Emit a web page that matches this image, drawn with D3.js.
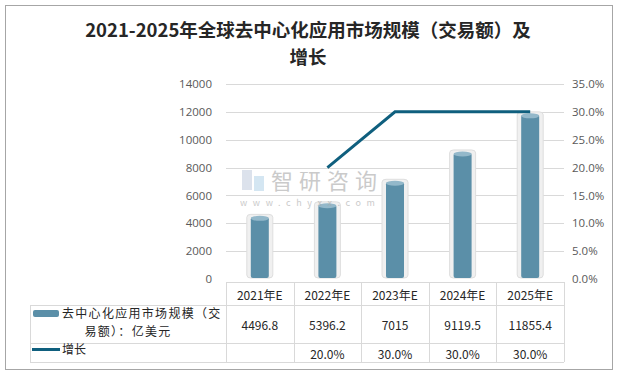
<!DOCTYPE html>
<html>
<head>
<meta charset="utf-8">
<script src="https://cdn.jsdelivr.net/npm/d3@7"></script>
<style>
  body { margin: 0; background: #fff; }
  text { font-family: "Noto Sans CJK SC", "Noto Sans", sans-serif; }
</style>
</head>
<body>
<div id="chart"></div>
<script>
var years = ["2021年E", "2022年E", "2023年E", "2024年E", "2025年E"];
var marketSize = [4496.8, 5396.2, 7015, 9119.5, 11855.4];
var growth = [null, 20.0, 30.0, 30.0, 30.0];
var leftTicks = [0, 2000, 4000, 6000, 8000, 10000, 12000, 14000];
var rightTicks = [0, 5, 10, 15, 20, 25, 30, 35];
var barName = "去中心化应用市场规模（交易额）：亿美元";
var lineName = "增长";

var width = 618, height = 377;
var plot = { left: 226, right: 564, top: 84, bottom: 279 };

var svg = d3.select("#chart").append("svg")
  .attr("width", width).attr("height", height);

// outer frame
svg.append("rect")
  .attr("x", 5.5).attr("y", 5.5).attr("width", 607).attr("height", 364)
  .attr("fill", "#fff").attr("stroke", "#a6a6a6");

// title
var title = svg.append("text")
  .attr("text-anchor", "middle")
  .attr("font-size", "18.5px").attr("font-weight", "bold").attr("fill", "#262626");
title.append("tspan").attr("x", 308).attr("y", 37).text("2021-2025年全球去中心化应用市场规模（交易额）及");
title.append("tspan").attr("x", 308).attr("y", 64).text("增长");

var x = d3.scaleBand().domain(years).range([plot.left, plot.right]);
var y = d3.scaleLinear().domain([0, 14000]).range([plot.bottom, plot.top]);
var y2 = d3.scaleLinear().domain([0, 35]).range([plot.bottom, plot.top]);

// gridlines
svg.append("g").selectAll("line").data(leftTicks.slice(1)).enter().append("line")
  .attr("x1", plot.left).attr("x2", plot.right)
  .attr("y1", d => Math.round(y(d)) + 0.5).attr("y2", d => Math.round(y(d)) + 0.5)
  .attr("stroke", "#d9d9d9");

// left axis
var leftAxis = svg.append("g")
  .attr("transform", "translate(" + plot.left + ",0)")
  .call(d3.axisLeft(y).tickValues(leftTicks).tickSize(0).tickPadding(14).tickFormat(d3.format("d")));
leftAxis.select(".domain").remove();
leftAxis.selectAll("text").attr("font-size", "11.5px").attr("fill", "#595959")
  .style("font-family", "'Open Sans', 'Noto Sans', sans-serif");

// right axis
var rightAxis = svg.append("g")
  .attr("transform", "translate(" + plot.right + ",0)")
  .call(d3.axisRight(y2).tickValues(rightTicks).tickSize(0).tickPadding(8)
    .tickFormat(d => d.toFixed(1) + "%"));
rightAxis.select(".domain").remove();
rightAxis.selectAll("text").attr("font-size", "11.5px").attr("fill", "#595959")
  .style("font-family", "'Open Sans', 'Noto Sans', sans-serif");

// cylinder bars
var bars = svg.append("g").selectAll("g").data(years).enter().append("g")
  .attr("transform", d => "translate(" + (x(d) + x.bandwidth() / 2) + ",0)");
var outerW = 26, innerW = 18;
bars.append("rect")
  .attr("x", -outerW / 2).attr("width", outerW)
  .attr("y", (d, i) => y(marketSize[i]) - 2)
  .attr("height", (d, i) => plot.bottom - y(marketSize[i]) + 1)
  .attr("rx", 4).attr("ry", 3)
  .attr("fill", "#f0f0f0").attr("stroke", "#dedede");
bars.append("rect")
  .attr("x", -innerW / 2).attr("width", innerW)
  .attr("y", (d, i) => y(marketSize[i]) + 1)
  .attr("height", (d, i) => plot.bottom - 2 - y(marketSize[i]))
  .attr("rx", 2).attr("fill", "#5b8fa8");
bars.append("ellipse")
  .attr("cx", 0).attr("cy", (d, i) => y(marketSize[i]) + 2)
  .attr("rx", innerW / 2).attr("ry", 2.5)
  .attr("fill", "#93b8ca");

// watermark
var wm = svg.append("g").attr("opacity", 0.6);
wm.append("rect").attr("x", 242).attr("y", 170).attr("width", 10).attr("height", 20).attr("fill", "#c5cfe0");
wm.append("rect").attr("x", 254).attr("y", 176).attr("width", 10).attr("height", 15).attr("fill", "#b8d6ea");
wm.append("text").attr("x", 271).attr("y", 189).attr("font-size", "22px").attr("fill", "#a8a8a8")
  .attr("letter-spacing", "6px").text("智研咨询");
wm.append("text").attr("x", 240).attr("y", 206).attr("font-size", "9px").attr("fill", "#a8a8a8")
  .attr("letter-spacing", "5.6px").text("www.chyxx.com");

// growth line
var line = d3.line()
  .defined(d => d.v != null)
  .x(d => x(d.k) + x.bandwidth() / 2)
  .y(d => y2(d.v));
svg.append("path")
  .datum(years.map((k, i) => ({ k: k, v: growth[i] })))
  .attr("d", line)
  .attr("fill", "none").attr("stroke", "#0f5f7e").attr("stroke-width", 3);

// data table
var tbl = svg.append("g").attr("font-size", "12px").attr("fill", "#262626");
var rowY = [282, 305, 343, 362];
var tableLeft = 30;
var gridColor = "#d9d9d9";
// horizontal lines
tbl.append("line").attr("x1", plot.left).attr("x2", plot.right).attr("y1", rowY[0] + 0.5).attr("y2", rowY[0] + 0.5).attr("stroke", gridColor);
[rowY[1], rowY[2], rowY[3]].forEach(function (yy) {
  tbl.append("line").attr("x1", tableLeft).attr("x2", plot.right).attr("y1", yy + 0.5).attr("y2", yy + 0.5).attr("stroke", gridColor);
});
// vertical lines
tbl.append("line").attr("x1", tableLeft + 0.5).attr("x2", tableLeft + 0.5).attr("y1", rowY[1]).attr("y2", rowY[3]).attr("stroke", gridColor);
years.forEach(function (k) {
  var xx = Math.round(x(k)) + 0.5;
  tbl.append("line").attr("x1", xx).attr("x2", xx).attr("y1", rowY[0]).attr("y2", rowY[3]).attr("stroke", gridColor);
});
tbl.append("line").attr("x1", plot.right + 0.5).attr("x2", plot.right + 0.5).attr("y1", rowY[0]).attr("y2", rowY[3]).attr("stroke", gridColor);

var cellText = function (k, yy, t) {
  tbl.append("text").attr("x", x(k) + x.bandwidth() / 2).attr("y", yy)
    .attr("text-anchor", "middle").attr("dominant-baseline", "central")
    .attr("fill", "#262626").text(t);
};
years.forEach(function (k, i) {
  cellText(k, (rowY[0] + rowY[1]) / 2 + 1, k);
  cellText(k, (rowY[1] + rowY[2]) / 2, String(marketSize[i]));
  if (growth[i] != null) cellText(k, (rowY[2] + rowY[3]) / 2 + 1, growth[i].toFixed(1) + "%");
});

// legend cells
tbl.append("rect").attr("x", 33).attr("y", 310).attr("width", 26).attr("height", 7)
  .attr("rx", 2).attr("fill", "#5b8fa8");
tbl.append("text").attr("x", 62).attr("y", 318).attr("letter-spacing", "1.3px").text(barName.slice(0, 12));
tbl.append("text").attr("x", 128).attr("y", 336).attr("text-anchor", "middle").attr("letter-spacing", "1.3px").text(barName.slice(12));
tbl.append("line").attr("x1", 32).attr("x2", 60).attr("y1", 349.5).attr("y2", 349.5)
  .attr("stroke", "#0f5f7e").attr("stroke-width", 3);
tbl.append("text").attr("x", 62).attr("y", 354).text(lineName);
</script>
</body>
</html>
